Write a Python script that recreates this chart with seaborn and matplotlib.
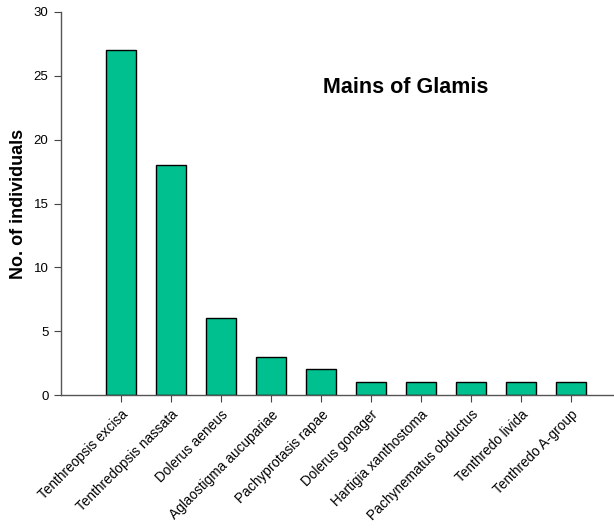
import matplotlib
matplotlib.use("Agg")
import matplotlib.pyplot as plt
import seaborn as sns
import pandas as pd

species = ["Tenthreopsis excisa", "Tenthredopsis nassata", "Dolerus aeneus",
           "Aglaostigma aucupariae", "Pachyprotasis rapae", "Dolerus gonager",
           "Hartigia xanthostoma", "Pachynematus obductus", "Tenthredo livida",
           "Tenthredo A-group"]
counts = [27, 18, 6, 3, 2, 1, 1, 1, 1, 1]
yticks = [0, 5, 10, 15, 20, 25, 30]

sns.set_style("ticks")
plt.rcParams["font.family"] = ["Liberation Sans", "DejaVu Sans"]
plt.rcParams["text.color"] = "black"
plt.rcParams["xtick.labelcolor"] = "black"
plt.rcParams["ytick.labelcolor"] = "black"
plt.rcParams["axes.labelcolor"] = "black"

df = pd.DataFrame({"species": species, "count": counts})

fig = plt.figure(figsize=(6.14, 5.31), dpi=100)
ax = fig.add_axes([61/614, 1-395/531, 1-61/614, 383/531])
sns.barplot(data=df, x="species", y="count", color="#00C08F", width=0.6,
            edgecolor="black", linewidth=1.0, saturation=1, ax=ax)

ax.set_xlim(-1.2, 9.86)
ax.set_ylim(0, 30)
ax.set_yticks(yticks)
ax.set_yticklabels([str(v) for v in yticks], fontsize=9.5)
ax.set_xticks(range(len(species)))
ax.set_xticklabels(species, rotation=45, ha="right", rotation_mode="anchor", fontsize=9.8)
ax.tick_params(axis="both", direction="out", length=5, width=0.8, color="#444444", pad=4)
ax.set_xlabel("")
ax.set_ylabel("No. of individuals", fontsize=13, fontweight="bold", labelpad=5)
for s in ["top", "right"]:
    ax.spines[s].set_visible(False)
for s in ["left", "bottom"]:
    ax.spines[s].set_color("#555555")
    ax.spines[s].set_linewidth(1.0)

ax.text(5.7, 24.1, "Mains of Glamis", ha="center", va="center",
        fontsize=15.5, fontweight="bold")

fig.savefig("out.png", dpi=100)
